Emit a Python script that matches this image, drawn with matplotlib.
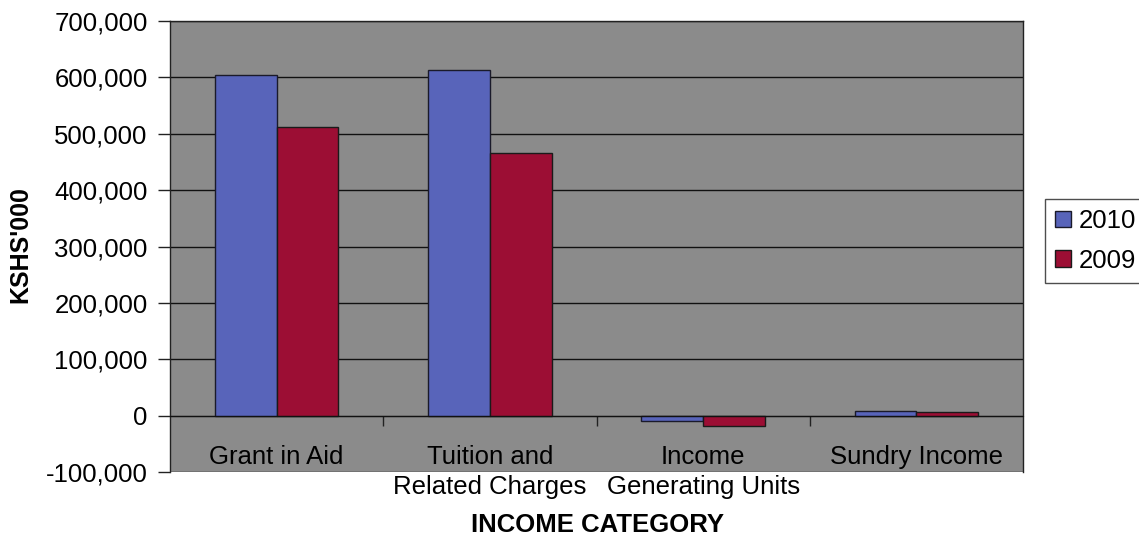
import matplotlib
matplotlib.use('Agg')
import matplotlib.pyplot as plt
import numpy as np

plt.rcParams['font.family'] = ['Liberation Sans', 'DejaVu Sans']

categories = ['Grant in Aid', 'Tuition and\nRelated Charges',
              'Income\nGenerating Units', 'Sundry Income']
income_2010 = [604000, 613000, -10000, 8000]
income_2009 = [512000, 466000, -18000, 7000]

fig = plt.figure(figsize=(11.39, 5.40), dpi=100)
ax = fig.add_axes([170 / 1139, 1 - 472 / 540, (1023 - 170) / 1139, (472 - 21) / 540])
ax.set_facecolor('#8b8b8b')

x = np.arange(len(categories))
w = 0.29
ax.bar(x - w / 2, income_2010, w, color='#5864ba', edgecolor='#1a1a2a', linewidth=1, label='2010')
ax.bar(x + w / 2, income_2009, w, color='#9c0e34', edgecolor='#1a1a1a', linewidth=1, label='2009')

ax.set_xlim(-0.5, 3.5)
ax.set_ylim(-100000, 700000)
ax.set_yticks(range(-100000, 700001, 100000))
ax.yaxis.set_major_formatter(matplotlib.ticker.FuncFormatter(lambda v, p: '{:,.0f}'.format(v)))
ax.tick_params(axis='y', labelsize=18.5, length=9, width=1, color='#222222', pad=7)
ax.grid(axis='y', color='#111111', linewidth=1)
ax.set_axisbelow(True)

# category axis sits on the zero line
ax.spines['bottom'].set_position(('data', 0))
ax.spines['bottom'].set_color('#111111')
ax.set_xticks(x)
ax.set_xticklabels(categories, fontsize=18.5, linespacing=1.35)
ax.set_xticks(x[:-1] + 0.5, minor=True)
ax.tick_params(axis='x', which='major', length=0, pad=21)
ax.tick_params(axis='x', which='minor', length=7, width=1, color='#222222', direction='out')
for s in ['left', 'right', 'top']:
    ax.spines[s].set_color('#222222')
    ax.spines[s].set_linewidth(1)

fig.text(20 / 1139, 1 - 245 / 540, "KSHS'000", fontsize=18, fontweight='bold',
         rotation=90, ha='center', va='center')
fig.text(597 / 1139, 1 - 525 / 540, 'INCOME CATEGORY', fontsize=18.5, fontweight='bold',
         ha='center', va='center')

leg = fig.legend(loc='center left', bbox_to_anchor=(1045 / 1139, 1 - 241 / 540), fontsize=18.5,
                 frameon=True, fancybox=False, edgecolor='#222222', handlelength=0.6,
                 handleheight=0.6, handletextpad=0.3, borderpad=0.4, labelspacing=0.6,
                 borderaxespad=0)
leg.get_frame().set_linewidth(1)

fig.savefig('out.png', dpi=100)
